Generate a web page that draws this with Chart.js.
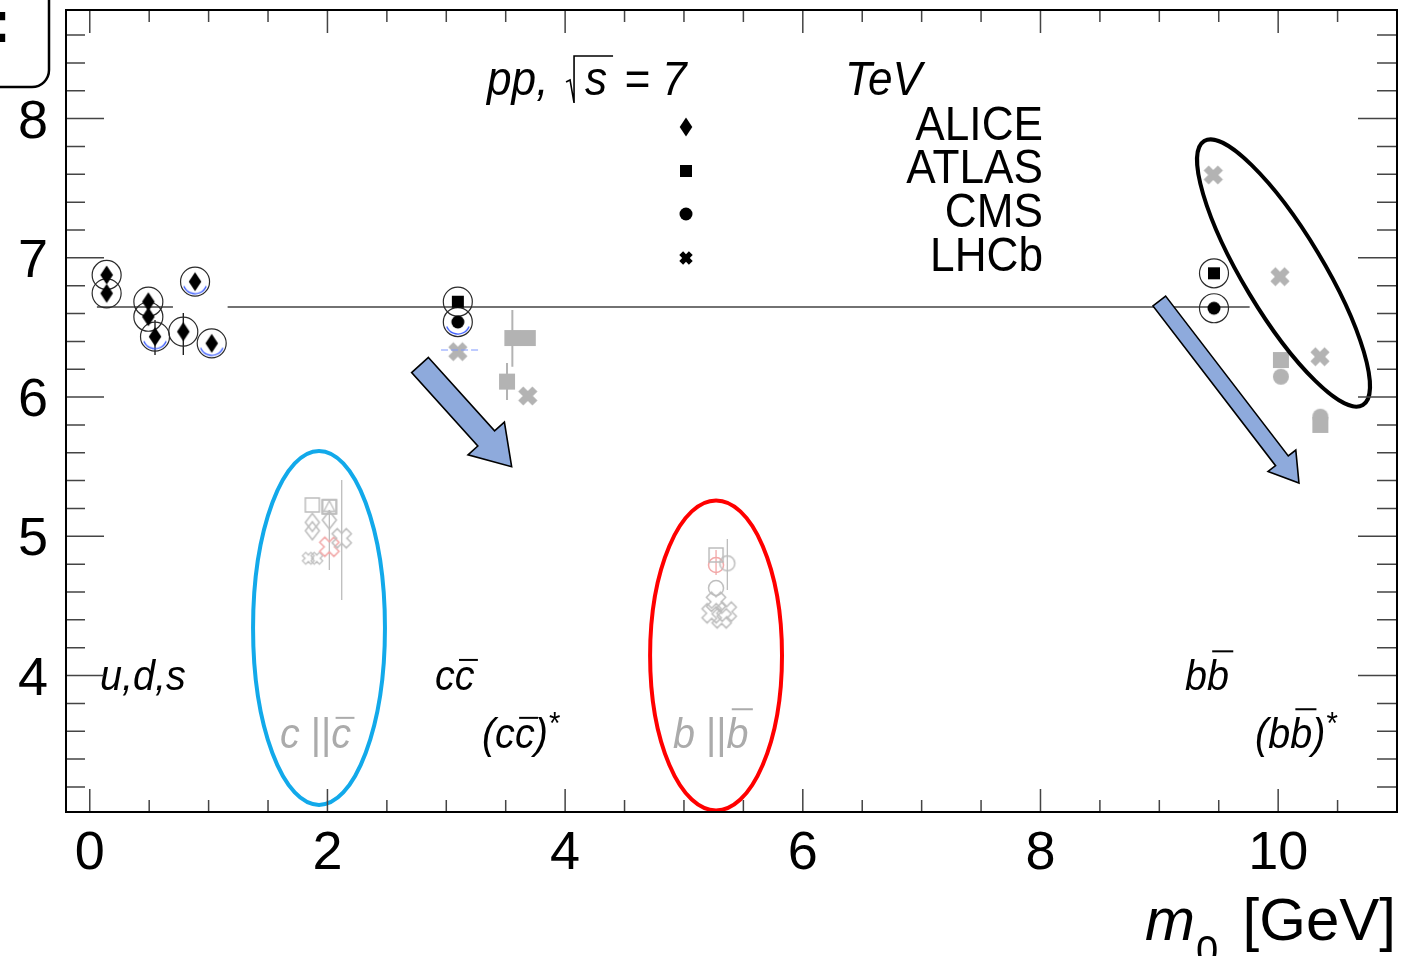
<!DOCTYPE html>
<html>
<head>
<meta charset="utf-8">
<script src="https://cdn.jsdelivr.net/npm/chart.js@4.4.0/dist/chart.umd.min.js"></script>
<style>
  html, body { margin: 0; padding: 0; background: #fff; }
  canvas { display: block; }
</style>
</head>
<body>
<canvas id="chart" width="1421" height="956"></canvas>
<script>
// ---- values (mass m0 in GeV, fitted value) ----
// light mesons, ALICE
const udsMass  = [0.142, 0.142, 0.493, 0.493, 0.549, 0.787, 0.886, 1.026];
const udsValue = [6.877, 6.745, 6.685, 6.577, 6.434, 6.470, 6.829, 6.386];
const udsErrMass = [0.549, 0.787];
const udsErrLow  = [6.302, 6.302];
const udsErrHigh = [6.553, 6.604];

// J/psi and Upsilon(1S)
const atlasMass  = [3.097, 9.460];
const atlasValue = [6.685, 6.889];
const cmsMass    = [3.097, 9.460];
const cmsValue   = [6.539, 6.638];
const lhcbMass   = [3.097, 3.686, 9.454, 10.015, 10.352];
const lhcbValue  = [6.326, 6.008, 7.595, 6.865, 6.290];

// excited states
const exAtlasMass  = [3.511, 3.556, 3.686, 10.023, 10.355];
const exAtlasValue = [6.111, 6.424, 6.424, 6.266, 5.800];
const exCmsMass    = [10.023, 10.355];
const exCmsValue   = [6.146, 5.859];
const exErrMass = [3.556, 3.511];
const exErrLow  = [6.218, 5.979];
const exErrHigh = [6.626, 6.245];

// open charm (c || cbar)
const dSquareMass  = [1.873, 2.016];
const dSquareValue = [5.225, 5.212];
const dDiamondMass  = [1.873, 1.873, 2.016];
const dDiamondValue = [5.100, 5.040, 5.117];
const dCrossMass  = [2.120];
const dCrossValue = [4.986];
const dCrossPinkMass  = [2.016];
const dCrossPinkValue = [4.925];
const dSmallCrossMass  = [1.839, 1.910];
const dSmallCrossValue = [4.842, 4.842];
const dErrMass = [2.120, 2.016];
const dErrLow  = [4.543, 4.758];
const dErrHigh = [5.405, 5.189];

// open beauty (b || bbar)
const bSquareMass  = [5.270];
const bSquareValue = [4.866];
const bCircleMass  = [5.365, 5.270];
const bCircleValue = [4.806, 4.629];
const bCirclePinkMass  = [5.270];
const bCirclePinkValue = [4.794];
const bCrossMass  = [5.270, 5.233, 5.360, 5.317];
const bCrossValue = [4.530, 4.447, 4.459, 4.411];
const bErrMass = [5.365];
const bErrLow  = [4.615];
const bErrHigh = [4.981];
const bErrPinkMass = [5.270];
const bErrPinkLow  = [4.722];
const bErrPinkHigh = [4.902];

// blue fit arcs
const arcMass  = [0.886, 0.549, 1.026, 3.097];
const arcValue = [6.829, 6.434, 6.386, 6.539];
const dashStart = [2.956];
const dashEnd   = [3.284];
const dashLevel = [6.338];

// common level line
const refLevel = 6.647;
const refStart = [0.06, 1.16];
const refEnd   = [0.70, 9.76];

// axes
const xTicks = [0, 2, 4, 6, 8, 10];
const yTicks = [4, 5, 6, 7, 8];
const legendNames = ['ALICE', 'ATLAS', 'CMS', 'LHCb'];

// ---- marker images ----
const GRAY = '#b3b3b3';
const FAINT = '#bdbdbd';
const PINK = '#f2a7a7';
const FONT = '"Liberation Sans", Arial, sans-serif';

function makeMarker(w, h, paint) {
  const c = document.createElement('canvas');
  c.width = w; c.height = h;
  const g = c.getContext('2d');
  g.translate(w / 2, h / 2);
  paint(g);
  return c;
}
function diamondPath(g, hw, hh) {
  g.beginPath();
  g.moveTo(0, -hh); g.lineTo(hw, 0); g.lineTo(0, hh); g.lineTo(-hw, 0);
  g.closePath();
}
function crossPath(g, L, t) {
  const pts = [[t, t], [L, t], [L, -t], [t, -t], [t, -L], [-t, -L], [-t, -t], [-L, -t], [-L, t], [-t, t], [-t, L], [t, L]];
  const c = Math.SQRT1_2;
  g.beginPath();
  pts.forEach(([u, v], i) => {
    const px = (u - v) * c, py = (u + v) * c;
    if (i) g.lineTo(px, py); else g.moveTo(px, py);
  });
  g.closePath();
}
function fillWith(color) { return g => { g.fillStyle = color; g.fill(); }; }
function strokeWith(color, lw) { return g => { g.strokeStyle = color; g.lineWidth = lw; g.stroke(); }; }

const mk = {
  diamond: makeMarker(16, 22, g => { diamondPath(g, 6.3, 9.5); fillWith('#000')(g); }),
  square: makeMarker(14, 14, g => { g.fillStyle = '#000'; g.fillRect(-6, -6, 12, 12); }),
  dot: makeMarker(16, 16, g => { g.beginPath(); g.arc(0, 0, 6.5, 0, 2 * Math.PI); fillWith('#000')(g); }),
  legendCross: makeMarker(20, 20, g => { crossPath(g, 6.8, 2.7); fillWith('#000')(g); }),
  grayCross: makeMarker(26, 26, g => { crossPath(g, 10, 3.6); fillWith(GRAY)(g); }),
  graySquare: makeMarker(18, 18, g => { g.fillStyle = GRAY; g.fillRect(-8, -8, 16, 16); }),
  grayDot: makeMarker(18, 18, g => { g.beginPath(); g.arc(0, 0, 8, 0, 2 * Math.PI); fillWith(GRAY)(g); }),
  openSquare: makeMarker(18, 18, g => { g.beginPath(); g.rect(-7, -7, 14, 14); strokeWith(FAINT, 1.5)(g); }),
  openSquareTri: makeMarker(18, 18, g => {
    g.beginPath(); g.rect(-7, -7, 14, 14); strokeWith(FAINT, 1.5)(g);
    g.beginPath(); g.moveTo(0, -6); g.lineTo(5.5, 4.5); g.lineTo(-5.5, 4.5); g.closePath(); strokeWith(FAINT, 1.3)(g);
  }),
  openDiamond: makeMarker(18, 22, g => { diamondPath(g, 7, 9); strokeWith(FAINT, 1.5)(g); }),
  openCross: makeMarker(28, 28, g => { crossPath(g, 10, 3.6); strokeWith(FAINT, 1.5)(g); }),
  openCrossPink: makeMarker(28, 28, g => { crossPath(g, 10, 3.6); strokeWith(PINK, 1.5)(g); }),
  openCrossSmall: makeMarker(18, 18, g => { crossPath(g, 6, 2.3); strokeWith(FAINT, 1.3)(g); }),
  openCircle: makeMarker(20, 20, g => { g.beginPath(); g.arc(0, 0, 7.5, 0, 2 * Math.PI); strokeWith(FAINT, 1.5)(g); }),
  openCirclePink: makeMarker(20, 20, g => { g.beginPath(); g.arc(0, 0, 7.5, 0, 2 * Math.PI); strokeWith(PINK, 1.5)(g); }),
  blueArc: makeMarker(30, 30, g => { g.beginPath(); g.arc(0, 0, 12, 0.12 * Math.PI, 0.88 * Math.PI); strokeWith('#3557ff', 1.3)(g); })
};

// ---- dataset helpers ----
const pts = (xs, ys) => xs.map((x, i) => ({ x, y: ys[i] }));
function vSegments(xs, lo, hi) {
  const out = [];
  xs.forEach((x, i) => out.push({ x, y: lo[i] }, { x, y: hi[i] }, { x, y: null }));
  return out;
}
function hSegments(x0, x1, ys) {
  const out = [];
  x0.forEach((x, i) => out.push({ x, y: ys[i] }, { x: x1[i], y: ys[i] }, { x: x1[i], y: null }));
  return out;
}
function markers(data, style, order) {
  return { data, pointStyle: style, pointRadius: 8, showLine: false, order };
}
function lines(data, color, width, order, dash) {
  return { data, showLine: true, spanGaps: false, pointRadius: 0, borderColor: color,
           borderWidth: width, borderDash: dash || [], order };
}

const ringPts = pts(udsMass.concat(atlasMass, cmsMass), udsValue.concat(atlasValue, cmsValue));

const datasets = [
  { data: ringPts, pointStyle: 'circle', pointRadius: 14.5, borderColor: '#2a2a2a', borderWidth: 1.2,
    backgroundColor: 'rgba(0,0,0,0)', showLine: false, order: 3 },
  markers(pts(udsMass, udsValue), mk.diamond, 1),
  markers(pts(atlasMass, atlasValue), mk.square, 1),
  markers(pts(cmsMass, cmsValue), mk.dot, 1),
  markers(pts(lhcbMass, lhcbValue), mk.grayCross, 4),
  markers(pts(exAtlasMass, exAtlasValue), mk.graySquare, 4),
  markers(pts(exCmsMass, exCmsValue), mk.grayDot, 4),
  markers(pts(dSquareMass, dSquareValue), mk.openSquare, 5),
  markers([{ x: dSquareMass[1], y: dSquareValue[1] }], mk.openSquareTri, 5),
  markers(pts(dDiamondMass, dDiamondValue), mk.openDiamond, 5),
  markers(pts(dCrossMass, dCrossValue), mk.openCross, 5),
  markers(pts(dCrossPinkMass, dCrossPinkValue), mk.openCrossPink, 5),
  markers(pts(dSmallCrossMass, dSmallCrossValue), mk.openCrossSmall, 5),
  markers(pts(bSquareMass, bSquareValue), mk.openSquare, 5),
  markers(pts(bCircleMass, bCircleValue), mk.openCircle, 5),
  markers(pts(bCirclePinkMass, bCirclePinkValue), mk.openCirclePink, 5),
  markers(pts(bCrossMass, bCrossValue), mk.openCross, 5),
  markers(pts(arcMass, arcValue), mk.blueArc, 2),
  lines(hSegments(dashStart, dashEnd, dashLevel), '#7f98ff', 1, 2, [7, 3]),
  lines(vSegments(udsErrMass, udsErrLow, udsErrHigh), '#111', 1.3, 6),
  lines(vSegments(exErrMass, exErrLow, exErrHigh), GRAY, 2, 6),
  lines(vSegments(dErrMass, dErrLow, dErrHigh), FAINT, 1.3, 6),
  lines(vSegments(bErrMass, bErrLow, bErrHigh), FAINT, 1.3, 6),
  lines(vSegments(bErrPinkMass, bErrPinkLow, bErrPinkHigh), PINK, 1.3, 6),
  lines(hSegments(refStart, refEnd, [refLevel, refLevel]), '#444', 1.3, 7)
];

// ---- annotations, placed in axis units ----
const ellipses = [
  { cx: 1.929, cy: 4.342, rx: 0.555, ry: 1.271, color: '#12a9ea' },
  { cx: 5.270, cy: 4.144, rx: 0.555, ry: 1.113, color: '#ff0000' }
];
const tiltedEllipse = { cx: 10.045, cy: 6.891, a: 154, b: 40, angle: 59, color: '#000' };
const arrows = [
  { from: [2.779, 6.230], to: [3.550, 5.500], shaft: 11.3, head: 24.5, headLen: 38 },
  { from: [9.000, 6.690], to: [10.175, 5.383], shaft: 8, head: 17.5, headLen: 28 }
];
const legendMarks = [mk.diamond, mk.square, mk.dot, mk.legendCross];
const legendAt = { mx: 5.017, my: [7.940, 7.624, 7.315, 6.999], tx: 8.021, ty: [7.846, 7.538, 7.222, 6.906] };
const bandLabels = [
  { at: [0.086, 3.896], color: '#000', parts: [{ t: 'u,d,s' }] },
  { at: [2.905, 3.896], color: '#000', parts: [{ t: 'c' }, { t: 'c', over: 0.7 }] },
  { at: [9.216, 3.896], color: '#000', parts: [{ t: 'b' }, { t: 'b', over: 0.9 }] },
  { at: [3.300, 3.480], color: '#000', parts: [{ t: '(' }, { t: 'c' }, { t: 'c', over: 0.7 }, { t: ')' }, { t: '*', size: 32, rise: 14 }] },
  { at: [9.805, 3.480], color: '#000', parts: [{ t: '(' }, { t: 'b' }, { t: 'b', over: 0.9 }, { t: ')' }, { t: '*', size: 32, rise: 14 }] },
  { at: [1.601, 3.480], color: '#ababab', parts: [{ t: 'c ' }, { t: '||', upright: true }, { t: 'c', over: 0.7 }] },
  { at: [4.908, 3.480], color: '#ababab', parts: [{ t: 'b ' }, { t: '||', upright: true }, { t: 'b', over: 0.9 }] }
];
const titleAt = [3.343, 8.170];

function drawRich(ctx, parts, x, y, size, color, sx) {
  ctx.save();
  ctx.translate(x, y);
  ctx.scale(sx, 1);
  ctx.fillStyle = color;
  ctx.strokeStyle = color;
  ctx.textAlign = 'left';
  ctx.textBaseline = 'alphabetic';
  let cx = 0;
  for (const p of parts) {
    const fs = p.size || size;
    ctx.font = (p.upright ? '' : 'italic ') + fs + 'px ' + FONT;
    ctx.fillText(p.t, cx, -(p.rise || 0));
    const w = ctx.measureText(p.t).width;
    if (p.over) {
      const h = p.over * fs;
      ctx.lineWidth = 2;
      ctx.beginPath();
      ctx.moveTo(cx + 0.12 * h + 1, -h);
      ctx.lineTo(cx + w + 0.12 * h, -h);
      ctx.stroke();
    }
    cx += w;
  }
  ctx.restore();
}
function squeezed(ctx, text, x, y, font, align, sx) {
  ctx.save();
  ctx.font = font;
  ctx.textAlign = align;
  ctx.textBaseline = 'alphabetic';
  ctx.translate(x, y);
  ctx.scale(sx, 1);
  ctx.fillText(text, 0, 0);
  ctx.restore();
}

const frame = {
  id: 'frame',
  afterDatasetsDraw(chart) {
    const { ctx, chartArea: a, scales: { x, y } } = chart;
    ctx.save();

    // ellipses
    ellipses.forEach(e => {
      const cx = x.getPixelForValue(e.cx), cy = y.getPixelForValue(e.cy);
      const rx = Math.abs(x.getPixelForValue(e.cx + e.rx) - cx);
      const ry = Math.abs(y.getPixelForValue(e.cy + e.ry) - cy);
      ctx.beginPath();
      ctx.ellipse(cx, cy, rx, ry, 0, 0, 2 * Math.PI);
      ctx.strokeStyle = e.color; ctx.lineWidth = 4; ctx.stroke();
    });
    const t = tiltedEllipse;
    ctx.beginPath();
    ctx.ellipse(x.getPixelForValue(t.cx), y.getPixelForValue(t.cy), t.a, t.b, t.angle * Math.PI / 180, 0, 2 * Math.PI);
    ctx.strokeStyle = t.color; ctx.lineWidth = 4; ctx.stroke();

    // block arrows
    arrows.forEach(ar => {
      const x0 = x.getPixelForValue(ar.from[0]), y0 = y.getPixelForValue(ar.from[1]);
      const x1 = x.getPixelForValue(ar.to[0]), y1 = y.getPixelForValue(ar.to[1]);
      const len = Math.hypot(x1 - x0, y1 - y0);
      ctx.save();
      ctx.translate(x0, y0);
      ctx.rotate(Math.atan2(y1 - y0, x1 - x0));
      const b = len - ar.headLen;
      ctx.beginPath();
      ctx.moveTo(0, -ar.shaft); ctx.lineTo(b, -ar.shaft); ctx.lineTo(b, -ar.head);
      ctx.lineTo(len, 0);
      ctx.lineTo(b, ar.head); ctx.lineTo(b, ar.shaft); ctx.lineTo(0, ar.shaft);
      ctx.closePath();
      ctx.fillStyle = '#8eaadc'; ctx.fill();
      ctx.strokeStyle = '#000'; ctx.lineWidth = 1.6; ctx.lineJoin = 'miter'; ctx.stroke();
      ctx.restore();
    });

    // legend
    ctx.fillStyle = '#000';
    legendMarks.forEach((m, i) => {
      const px = x.getPixelForValue(legendAt.mx), py = y.getPixelForValue(legendAt.my[i]);
      ctx.drawImage(m, px - m.width / 2, py - m.height / 2);
      squeezed(ctx, legendNames[i], x.getPixelForValue(legendAt.tx), y.getPixelForValue(legendAt.ty[i]),
               '48px ' + FONT, 'right', 0.92);
    });

    // title: pp, sqrt(s) = 7 TeV
    const tx = x.getPixelForValue(titleAt[0]), ty = y.getPixelForValue(titleAt[1]);
    const it = 'italic 48px ' + FONT;
    squeezed(ctx, 'pp,', tx, ty, it, 'left', 0.92);
    ctx.strokeStyle = '#000'; ctx.lineWidth = 1.6;
    ctx.beginPath();
    ctx.moveTo(tx + 79, ty - 13); ctx.lineTo(tx + 83, ty - 15); ctx.lineTo(tx + 87, ty + 8);
    ctx.lineTo(tx + 87, ty - 39); ctx.lineTo(tx + 126, ty - 39);
    ctx.stroke();
    squeezed(ctx, 's', tx + 98, ty, it, 'left', 0.92);
    squeezed(ctx, '= 7', tx + 137, ty, it, 'left', 0.92);
    squeezed(ctx, 'TeV', tx + 358, ty, it, 'left', 0.92);

    // band labels
    bandLabels.forEach(l => drawRich(ctx, l.parts, x.getPixelForValue(l.at[0]), y.getPixelForValue(l.at[1]), 43, l.color, 0.92));

    // frame and ticks
    ctx.strokeStyle = '#444'; ctx.lineWidth = 1.5;
    ctx.beginPath();
    for (let v = 0; v <= 11; v += 0.5) {
      const px = x.getPixelForValue(v);
      const len = v % 2 === 0 ? 23 : 12;
      ctx.moveTo(px, a.bottom); ctx.lineTo(px, a.bottom - len);
      ctx.moveTo(px, a.top); ctx.lineTo(px, a.top + len);
    }
    for (let k = 16; k <= 43; k++) {
      const v = k / 5;
      const py = y.getPixelForValue(v);
      const major = k % 5 === 0;
      ctx.moveTo(a.left, py); ctx.lineTo(a.left + (major ? 38 : 19), py);
      ctx.moveTo(a.right, py); ctx.lineTo(a.right - (major ? 39 : 20), py);
    }
    ctx.stroke();
    ctx.strokeStyle = '#000'; ctx.lineWidth = 2;
    ctx.strokeRect(a.left, a.top, a.right - a.left, a.bottom - a.top);

    // tick labels
    ctx.fillStyle = '#000';
    ctx.font = '54px ' + FONT;
    ctx.textAlign = 'right'; ctx.textBaseline = 'alphabetic';
    yTicks.forEach(v => ctx.fillText(String(v), a.left - 18, y.getPixelForValue(v) + 19));
    ctx.textAlign = 'center';
    xTicks.forEach(v => ctx.fillText(String(v), x.getPixelForValue(v), a.bottom + 57));

    // axis title m0 [GeV]
    ctx.textAlign = 'left';
    ctx.font = 'italic 60px ' + FONT;
    ctx.fillText('m', a.right - 252, a.bottom + 128);
    ctx.font = '40px ' + FONT;
    ctx.fillText('0', a.right - 201, a.bottom + 152);
    ctx.textAlign = 'right';
    ctx.font = '60px ' + FONT;
    ctx.fillText('[GeV]', a.right - 1, a.bottom + 128);

    // panel tag box at the corner
    ctx.strokeStyle = '#000'; ctx.lineWidth = 2.5;
    ctx.beginPath();
    ctx.moveTo(49, -5); ctx.lineTo(49, 70); ctx.arcTo(49, 87, 32, 87, 17); ctx.lineTo(-5, 87);
    ctx.stroke();
    ctx.font = 'bold 60px ' + FONT;
    ctx.textAlign = 'left';
    ctx.fillText(':', -9, 42);

    ctx.restore();
  }
};

new Chart(document.getElementById('chart'), {
  type: 'scatter',
  data: { datasets },
  options: {
    responsive: false,
    devicePixelRatio: 1,
    animation: false,
    events: [],
    layout: { autoPadding: false, padding: { left: 66, right: 24, top: 10, bottom: 144 } },
    plugins: { legend: { display: false }, tooltip: { enabled: false } },
    scales: {
      x: { type: 'linear', min: -0.2, max: 11.0, display: false, ticks: { display: false } },
      y: { type: 'linear', min: 3.02, max: 8.78, display: false, ticks: { display: false } }
    }
  },
  plugins: [frame]
});
</script>
</body>
</html>
